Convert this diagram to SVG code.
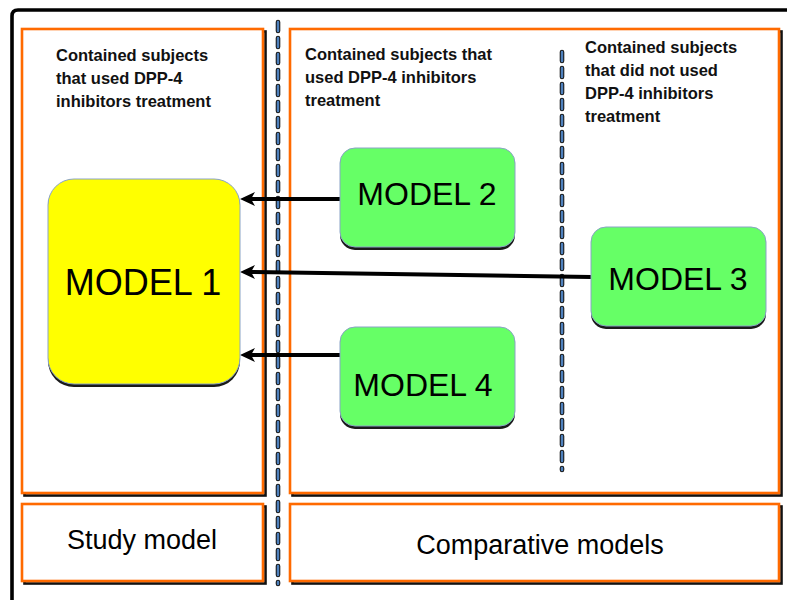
<svg xmlns="http://www.w3.org/2000/svg" width="787" height="600" viewBox="0 0 787 600">
  <style>
    .panel { fill: #ffffff; stroke: #ff6a00; stroke-width: 2.6; }
    .panel-shadow { fill: none; stroke: #111111; stroke-width: 2.6; }
    .note { font-family: "Liberation Sans", Arial, sans-serif; font-weight: bold; font-size: 16.5px; fill: #111111; }
    .caption { font-family: "Liberation Sans", Arial, sans-serif; font-size: 27px; fill: #000000; text-anchor: middle; }
    .model-label { font-family: "Liberation Sans", Arial, sans-serif; fill: #000000; text-anchor: middle; }
    .model-shadow { fill: #1a1a1a; }
    .model-yellow { fill: #ffff00; stroke: #8aa3c6; stroke-width: 1; }
    .model-green { fill: #66ff66; stroke: #8aa3c6; stroke-width: 1; }
    .dash-outer { stroke: #1a1a1a; stroke-width: 4.6; stroke-dasharray: 9 7; stroke-linecap: round; fill: none; }
    .dash-inner { stroke: #4f81bd; stroke-width: 2.4; stroke-dasharray: 9 7; stroke-linecap: round; fill: none; }
    .link { stroke: #000000; stroke-width: 4; fill: none; }
    .head { fill: #000000; }
  </style>

  <rect width="787" height="600" fill="#ffffff"/>

  <!-- outer frame (top and left edges) -->
  <path d="M12,600 L12,16 Q12,10 18,10 L787,10" fill="none" stroke="#000000" stroke-width="3.6"/>

  <!-- column panels -->
  <g id="panel-study">
    <rect class="panel-shadow" x="24.5" y="31.5" width="241" height="464"/>
    <rect class="panel" x="22" y="29" width="241" height="464"/>
    <text class="note" x="56" y="61">Contained subjects</text>
    <text class="note" x="56" y="84">that used DPP-4</text>
    <text class="note" x="56" y="107">inhibitors treatment</text>
  </g>
  <g id="panel-comparative">
    <rect class="panel-shadow" x="292.5" y="31.5" width="489" height="464"/>
    <rect class="panel" x="290" y="29" width="489" height="464"/>
    <text class="note" x="305" y="60">Contained subjects that</text>
    <text class="note" x="305" y="83">used DPP-4 inhibitors</text>
    <text class="note" x="305" y="106">treatment</text>
    <text class="note" x="585" y="53">Contained subjects</text>
    <text class="note" x="585" y="76">that did not used</text>
    <text class="note" x="585" y="99">DPP-4 inhibitors</text>
    <text class="note" x="585" y="122">treatment</text>
  </g>
  <g id="caption-study">
    <rect class="panel-shadow" x="24.5" y="506.5" width="241" height="77"/>
    <rect class="panel" x="22" y="504" width="241" height="77"/>
    <text class="caption" x="142" y="549">Study model</text>
  </g>
  <g id="caption-comparative">
    <rect class="panel-shadow" x="292.5" y="506.5" width="489" height="77"/>
    <rect class="panel" x="290" y="504" width="489" height="77"/>
    <text class="caption" x="540" y="554">Comparative models</text>
  </g>

  <!-- dashed separators -->
  <g id="separators">
    <line class="dash-outer" x1="278" y1="22" x2="278" y2="584"/>
    <line class="dash-inner" x1="278" y1="22" x2="278" y2="584"/>
    <line class="dash-outer" x1="562" y1="52" x2="562" y2="470"/>
    <line class="dash-inner" x1="562" y1="52" x2="562" y2="470"/>
  </g>

  <!-- arrows into MODEL 1 -->
  <g id="connectors">
    <line class="link" x1="340" y1="199" x2="250" y2="199"/>
    <path class="head" d="M240,199 L255,192 L251,199 L255,206 Z"/>
    <line class="link" x1="591" y1="277" x2="250" y2="272"/>
    <path class="head" d="M240,272 L255,265 L251,272 L255,279 Z"/>
    <line class="link" x1="340" y1="355" x2="250" y2="355"/>
    <path class="head" d="M240,355 L255,348 L251,355 L255,362 Z"/>
  </g>

  <g id="model-1">
    <rect class="model-shadow" x="48" y="181" width="192" height="206" rx="26"/>
    <rect class="model-yellow" x="48" y="179" width="192" height="205" rx="26"/>
    <text class="model-label" x="143" y="295" font-size="36">MODEL 1</text>
  </g>
  <g id="model-2">
    <rect class="model-shadow" x="340" y="150" width="175" height="100" rx="15"/>
    <rect class="model-green" x="340" y="148" width="175" height="99" rx="15"/>
    <text class="model-label" x="427" y="205" font-size="32">MODEL 2</text>
  </g>
  <g id="model-3">
    <rect class="model-shadow" x="591" y="229" width="175" height="100" rx="15"/>
    <rect class="model-green" x="591" y="227" width="175" height="99" rx="15"/>
    <text class="model-label" x="678" y="290" font-size="32">MODEL 3</text>
  </g>
  <g id="model-4">
    <rect class="model-shadow" x="340" y="329" width="175" height="100" rx="15"/>
    <rect class="model-green" x="340" y="327" width="175" height="99" rx="15"/>
    <text class="model-label" x="423" y="396" font-size="32">MODEL 4</text>
  </g>
</svg>
